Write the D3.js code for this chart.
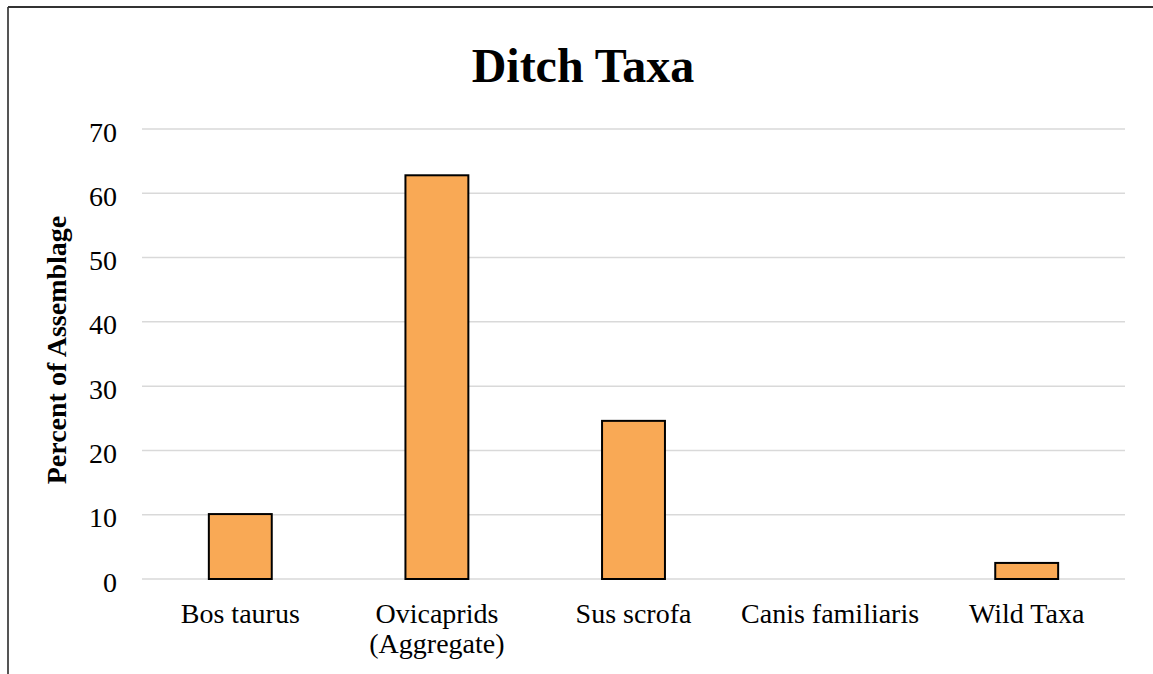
<!DOCTYPE html>
<html>
<head>
<meta charset="utf-8">
<script src="https://cdn.jsdelivr.net/npm/d3@7"></script>
<style>
  html, body { margin: 0; padding: 0; background: #fff; }
  svg { display: block; }
</style>
</head>
<body>
<svg id="chart" width="1153" height="674"></svg>
<script>
const categories = [["Bos taurus"], ["Ovicaprids", "(Aggregate)"], ["Sus scrofa"], ["Canis familiaris"], ["Wild Taxa"]];
const values = [10.1, 62.8, 24.6, 0, 2.5];
const yTicks = [0, 10, 20, 30, 40, 50, 60, 70];
const titleText = "Ditch Taxa";
const yTitle = "Percent of Assemblage";

const W = 1153, H = 674;
const plot = { left: 142, right: 1125, top: 129, bottom: 579 };
const font = "'Liberation Serif', 'Times New Roman', serif";

const svg = d3.select("#chart");

// frame (left and top edges visible)
svg.append("line").attr("x1", 8).attr("x2", 8).attr("y1", 7).attr("y2", H)
  .attr("stroke", "#555").attr("stroke-width", 2);
svg.append("line").attr("x1", 8).attr("x2", W).attr("y1", 7).attr("y2", 7)
  .attr("stroke", "#333").attr("stroke-width", 2);

const keys = categories.map(c => c.join(" "));
const x = d3.scaleBand().domain(keys).range([plot.left, plot.right]).padding(0);
const y = d3.scaleLinear().domain([0, 70]).range([plot.bottom, plot.top]);

// gridlines
svg.append("g").selectAll("line").data(yTicks).join("line")
  .attr("x1", plot.left).attr("x2", plot.right)
  .attr("y1", d => y(d)).attr("y2", d => y(d))
  .attr("stroke", "#d9d9d9").attr("stroke-width", 1.5);

// y axis labels
const yAxis = d3.axisLeft(y).tickValues(yTicks).tickSize(0).tickPadding(0);
const yg = svg.append("g").attr("transform", `translate(117,0)`).call(yAxis);
yg.select(".domain").remove();
yg.selectAll("text")
  .attr("font-family", font).attr("font-size", 28).attr("fill", "#000")
  .attr("dy", "0.43em").attr("x", 0).attr("text-anchor", "end");

// bars
const barW = x.bandwidth() * 0.32;
svg.append("g").selectAll("rect").data(values).join("rect")
  .attr("x", (d, i) => x(keys[i]) + x.bandwidth() / 2 - barW / 2)
  .attr("width", barW)
  .attr("y", d => y(d))
  .attr("height", d => y(0) - y(d))
  .attr("fill", "#f9a955")
  .attr("stroke", d => d > 0 ? "#000" : "none")
  .attr("stroke-width", 2);

// x labels
const xl = svg.append("g");
categories.forEach((lines, i) => {
  const t = xl.append("text")
    .attr("x", x(keys[i]) + x.bandwidth() / 2)
    .attr("y", 623)
    .attr("text-anchor", "middle")
    .attr("font-family", font).attr("font-size", 28).attr("fill", "#000");
  lines.forEach((ln, j) => {
    t.append("tspan").attr("x", x(keys[i]) + x.bandwidth() / 2)
      .attr("dy", j === 0 ? 0 : 30).text(ln);
  });
});

// title
svg.append("text").attr("x", 583).attr("y", 82).attr("text-anchor", "middle")
  .attr("font-family", font).attr("font-weight", "bold").attr("font-size", 48)
  .attr("fill", "#000").text(titleText);

// y title
svg.append("text")
  .attr("transform", "translate(66,350) rotate(-90)")
  .attr("text-anchor", "middle")
  .attr("font-family", font).attr("font-weight", "bold").attr("font-size", 28)
  .attr("fill", "#000").text(yTitle);
</script>
</body>
</html>
